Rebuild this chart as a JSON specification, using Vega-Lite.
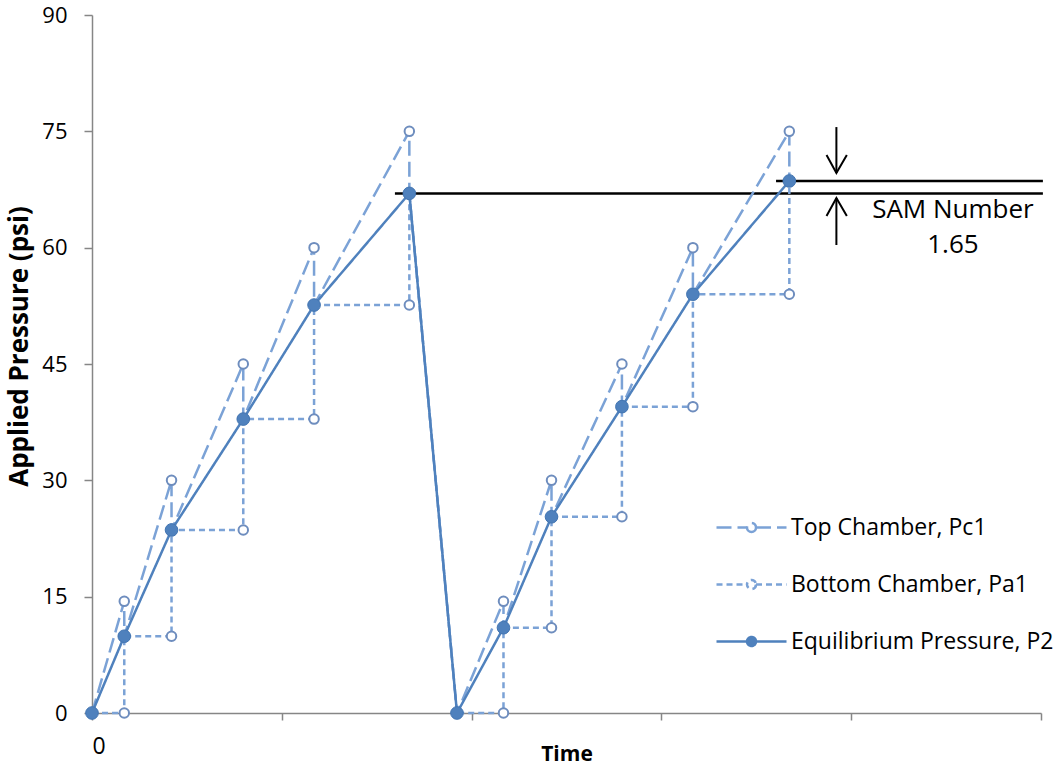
{
  "$schema": "https://vega.github.io/schema/vega-lite/v6.json",
  "width": 949,
  "height": 698,
  "autosize": {"type": "none"},
  "padding": {"left": 92, "top": 15, "right": 16, "bottom": 54},
  "background": "white",
  "config": {
    "view": {"stroke": null},
    "font": "Open Sans",
    "axis": {
      "labelFont": "Open Sans", "titleFont": "Open Sans",
      "labelColor": "black", "titleColor": "black",
      "domainColor": "#868686", "tickColor": "#868686",
      "domainWidth": 1.5, "tickWidth": 1.5, "grid": false
    }
  },
  "datasets": {
    "series": [
      {"series": "Top Chamber, Pc1", "i": 0, "x": 0, "y": 0},
      {"series": "Top Chamber, Pc1", "i": 1, "x": 1.70, "y": 14.4},
      {"series": "Top Chamber, Pc1", "i": 2, "x": 1.70, "y": 9.9},
      {"series": "Top Chamber, Pc1", "i": 3, "x": 4.19, "y": 30},
      {"series": "Top Chamber, Pc1", "i": 4, "x": 4.19, "y": 23.6},
      {"series": "Top Chamber, Pc1", "i": 5, "x": 7.97, "y": 45},
      {"series": "Top Chamber, Pc1", "i": 6, "x": 7.97, "y": 37.9},
      {"series": "Top Chamber, Pc1", "i": 7, "x": 11.70, "y": 60},
      {"series": "Top Chamber, Pc1", "i": 8, "x": 11.70, "y": 52.6},
      {"series": "Top Chamber, Pc1", "i": 9, "x": 16.72, "y": 75},
      {"series": "Top Chamber, Pc1", "i": 10, "x": 16.72, "y": 67.0},
      {"series": "Top Chamber, Pc1", "i": 11, "x": 19.23, "y": 0},
      {"series": "Top Chamber, Pc1", "i": 12, "x": 21.68, "y": 14.4},
      {"series": "Top Chamber, Pc1", "i": 13, "x": 21.68, "y": 11.0},
      {"series": "Top Chamber, Pc1", "i": 14, "x": 24.21, "y": 30},
      {"series": "Top Chamber, Pc1", "i": 15, "x": 24.21, "y": 25.3},
      {"series": "Top Chamber, Pc1", "i": 16, "x": 27.92, "y": 45},
      {"series": "Top Chamber, Pc1", "i": 17, "x": 27.92, "y": 39.5},
      {"series": "Top Chamber, Pc1", "i": 18, "x": 31.66, "y": 60},
      {"series": "Top Chamber, Pc1", "i": 19, "x": 31.66, "y": 54.0},
      {"series": "Top Chamber, Pc1", "i": 20, "x": 36.74, "y": 75},
      {"series": "Top Chamber, Pc1", "i": 21, "x": 36.74, "y": 68.6},
      {"series": "Bottom Chamber, Pa1", "i": 0, "x": 0, "y": 0},
      {"series": "Bottom Chamber, Pa1", "i": 1, "x": 1.70, "y": 0},
      {"series": "Bottom Chamber, Pa1", "i": 2, "x": 1.70, "y": 9.9},
      {"series": "Bottom Chamber, Pa1", "i": 3, "x": 4.19, "y": 9.9},
      {"series": "Bottom Chamber, Pa1", "i": 4, "x": 4.19, "y": 23.6},
      {"series": "Bottom Chamber, Pa1", "i": 5, "x": 7.97, "y": 23.6},
      {"series": "Bottom Chamber, Pa1", "i": 6, "x": 7.97, "y": 37.9},
      {"series": "Bottom Chamber, Pa1", "i": 7, "x": 11.70, "y": 37.9},
      {"series": "Bottom Chamber, Pa1", "i": 8, "x": 11.70, "y": 52.6},
      {"series": "Bottom Chamber, Pa1", "i": 9, "x": 16.72, "y": 52.6},
      {"series": "Bottom Chamber, Pa1", "i": 10, "x": 16.72, "y": 67.0},
      {"series": "Bottom Chamber, Pa1", "i": 11, "x": 19.23, "y": 0},
      {"series": "Bottom Chamber, Pa1", "i": 12, "x": 21.68, "y": 0},
      {"series": "Bottom Chamber, Pa1", "i": 13, "x": 21.68, "y": 11.0},
      {"series": "Bottom Chamber, Pa1", "i": 14, "x": 24.21, "y": 11.0},
      {"series": "Bottom Chamber, Pa1", "i": 15, "x": 24.21, "y": 25.3},
      {"series": "Bottom Chamber, Pa1", "i": 16, "x": 27.92, "y": 25.3},
      {"series": "Bottom Chamber, Pa1", "i": 17, "x": 27.92, "y": 39.5},
      {"series": "Bottom Chamber, Pa1", "i": 18, "x": 31.66, "y": 39.5},
      {"series": "Bottom Chamber, Pa1", "i": 19, "x": 31.66, "y": 54.0},
      {"series": "Bottom Chamber, Pa1", "i": 20, "x": 36.74, "y": 54.0},
      {"series": "Bottom Chamber, Pa1", "i": 21, "x": 36.74, "y": 68.6},
      {"series": "Equilibrium Pressure, P2", "i": 0, "x": 0, "y": 0},
      {"series": "Equilibrium Pressure, P2", "i": 1, "x": 1.70, "y": 9.9},
      {"series": "Equilibrium Pressure, P2", "i": 2, "x": 4.19, "y": 23.6},
      {"series": "Equilibrium Pressure, P2", "i": 3, "x": 7.97, "y": 37.9},
      {"series": "Equilibrium Pressure, P2", "i": 4, "x": 11.70, "y": 52.6},
      {"series": "Equilibrium Pressure, P2", "i": 5, "x": 16.72, "y": 67.0},
      {"series": "Equilibrium Pressure, P2", "i": 6, "x": 19.23, "y": 0},
      {"series": "Equilibrium Pressure, P2", "i": 7, "x": 21.68, "y": 11.0},
      {"series": "Equilibrium Pressure, P2", "i": 8, "x": 24.21, "y": 25.3},
      {"series": "Equilibrium Pressure, P2", "i": 9, "x": 27.92, "y": 39.5},
      {"series": "Equilibrium Pressure, P2", "i": 10, "x": 31.66, "y": 54.0},
      {"series": "Equilibrium Pressure, P2", "i": 11, "x": 36.74, "y": 68.6}
    ],
    "refs": [
      {"x": 15.96, "xe": 50.1, "y": 67.0},
      {"x": 36.04, "xe": 50.1, "y": 68.6}
    ],
    "arrows": [
      {"seg": "a1", "i": 0, "x": 39.22, "y": 75.55},
      {"seg": "a1", "i": 1, "x": 39.22, "y": 69.62},
      {"seg": "a2", "i": 0, "x": 38.70, "y": 71.94},
      {"seg": "a2", "i": 1, "x": 39.22, "y": 69.62},
      {"seg": "a2", "i": 2, "x": 39.77, "y": 71.94},
      {"seg": "a3", "i": 0, "x": 39.22, "y": 66.4},
      {"seg": "a3", "i": 1, "x": 39.22, "y": 60.34},
      {"seg": "a4", "i": 0, "x": 38.70, "y": 64.08},
      {"seg": "a4", "i": 1, "x": 39.22, "y": 66.4},
      {"seg": "a4", "i": 2, "x": 39.77, "y": 64.08}
    ],
    "notes": [
      {"x": 45.36, "y": 64.85, "text": "SAM Number"},
      {"x": 45.36, "y": 60.3, "text": "1.65"}
    ]
  },
  "encoding": {
    "x": {
      "field": "x", "type": "quantitative",
      "scale": {"domain": [0, 50], "nice": false, "zero": false},
      "axis": {
        "values": [0, 10, 20, 30, 40, 50],
        "labelExpr": "datum.value == 0 ? '0' : ''",
        "title": "Time", "titleFontWeight": "bold", "titleFontSize": 21,
        "titleY": 47, "titleBaseline": "alphabetic",
        "labelFontSize": 23, "tickSize": 7, "labelPadding": 15
      }
    },
    "y": {
      "field": "y", "type": "quantitative",
      "scale": {"domain": [0, 90], "nice": false},
      "axis": {
        "values": [0, 15, 30, 45, 60, 75, 90],
        "title": "Applied Pressure (psi)", "titleFontWeight": "bold", "titleFontSize": 26,
        "titleX": -73, "titleY": 331, "titleBaseline": "middle",
        "labelFontSize": 22, "tickSize": 8, "labelPadding": 17
      }
    }
  },
  "layer": [
    {
      "data": {"name": "refs"},
      "mark": {"type": "rule", "color": "black", "strokeWidth": 2.5},
      "encoding": {"x2": {"field": "xe"}}
    },
    {
      "data": {"name": "arrows"},
      "mark": {"type": "line", "color": "black", "strokeWidth": 2},
      "encoding": {"detail": {"field": "seg"}, "order": {"field": "i", "type": "quantitative"}}
    },
    {
      "data": {"name": "notes"},
      "mark": {"type": "text", "fontSize": 26, "font": "Open Sans", "color": "black", "align": "center", "baseline": "middle"},
      "encoding": {"text": {"field": "text"}}
    },
    {
      "data": {"name": "series"},
      "transform": [{"filter": "datum.series != 'Equilibrium Pressure, P2'"}],
      "mark": {"type": "line", "strokeWidth": 2.5},
      "encoding": {
        "order": {"field": "i", "type": "quantitative"},
        "color": {
          "field": "series", "type": "nominal",
          "scale": {"domain": ["Top Chamber, Pc1", "Bottom Chamber, Pa1", "Equilibrium Pressure, P2"], "range": ["#7BA2D6", "#7BA2D6", "#4F81BD"]},
          "legend": {
            "title": null, "orient": "none", "legendX": 648, "legendY": 501,
            "symbolType": "M-3.5,0L-0.45,0M0.45,0L3.5,0M0.45,0A0.45,0.45,0,1,1,-0.45,0A0.45,0.45,0,1,1,0.45,0",
            "symbolSize": 400, "symbolStrokeWidth": 2.5,
            "labelFontSize": 23, "labelFont": "Open Sans", "labelColor": "black", "labelLimit": 400,
            "labelOffset": 28, "rowPadding": 33,
            "encode": {
              "symbols": {
                "update": {
                  "fill": {"signal": "datum.value === 'Equilibrium Pressure, P2' ? '#4F81BD' : 'white'"},
                  "strokeDash": {"signal": "datum.value === 'Bottom Chamber, Pa1' ? [6, 4] : [1, 0]"}
                }
              }
            }
          }
        },
        "strokeDash": {
          "field": "series", "type": "nominal",
          "scale": {"domain": ["Top Chamber, Pc1", "Bottom Chamber, Pa1", "Equilibrium Pressure, P2"], "range": [[15, 6], [6, 4], [1, 0]]},
          "legend": null
        }
      }
    },
    {
      "data": {"name": "series"},
      "transform": [{"filter": "datum.series != 'Equilibrium Pressure, P2'"}],
      "mark": {"type": "point", "filled": true, "fill": "white", "stroke": "#6E8DBE", "strokeWidth": 2, "size": 90, "opacity": 1}
    },
    {
      "data": {"name": "series"},
      "transform": [{"filter": "datum.series == 'Equilibrium Pressure, P2'"}],
      "mark": {"type": "line", "strokeWidth": 2.5},
      "encoding": {
        "order": {"field": "i", "type": "quantitative"},
        "color": {"field": "series", "type": "nominal"},
        "strokeDash": {"field": "series", "type": "nominal", "legend": null}
      }
    },
    {
      "data": {"name": "series"},
      "transform": [{"filter": "datum.series == 'Equilibrium Pressure, P2'"}],
      "mark": {"type": "point", "filled": true, "fill": "#4F81BD", "stroke": "#4476B2", "strokeWidth": 1, "size": 160, "opacity": 1}
    }
  ]
}
